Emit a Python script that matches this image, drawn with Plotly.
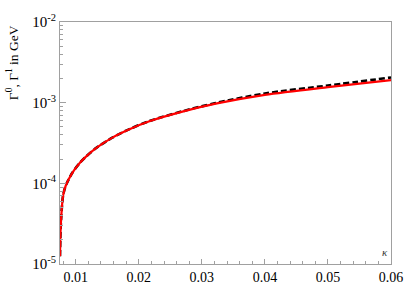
import plotly.graph_objects as go

kappa = [0.0075, 0.00759, 0.00779, 0.0080, 0.00842, 0.00948, 0.01063, 0.01158,
         0.01326, 0.01588, 0.01852, 0.02167, 0.02692, 0.03219, 0.04,
         0.05, 0.06]
gamma_red = [1.25e-5, 2.62e-5, 4.94e-5, 7.13e-5, 9.4e-5, 1.36e-4, 1.79e-4, 2.13e-4,
             2.75e-4, 3.71e-4, 4.68e-4, 5.88e-4, 7.74e-4, 9.72e-4, 1.25e-3,
             1.56e-3, 1.90e-3]
gamma_black = [1.25e-5, 2.62e-5, 4.94e-5, 7.13e-5, 9.4e-5, 1.36e-4, 1.79e-4, 2.13e-4,
               2.75e-4, 3.71e-4, 4.70e-4, 5.92e-4, 7.82e-4, 9.90e-4, 1.30e-3,
               1.63e-3, 2.05e-3]

x_ticks = [0.01, 0.02, 0.03, 0.04, 0.05, 0.06]
x_ticklabels = ["0.01", "0.02", "0.03", "0.04", "0.05", "0.06"]
y_ticks = [1e-5, 1e-4, 1e-3, 1e-2]
y_ticklabels = ["10<sup>-5</sup>", "10<sup>-4</sup>", "10<sup>-3</sup>", "10<sup>-2</sup>"]

y_minor = [m * 10 ** e for e in (-5, -4, -3) for m in range(2, 10)]
x_minor = [round(0.008 + 0.002 * i, 4) for i in range(27)]

FONT = "Liberation Serif, Times New Roman, DejaVu Serif, serif"
GRAY = "#a0a0a0"

fig = go.Figure()
fig.add_trace(go.Scatter(x=kappa, y=gamma_black, mode="lines", line_shape="spline",
                         line=dict(color="black", width=2.6, dash="6px,3px", smoothing=0.8),
                         showlegend=False))
fig.add_trace(go.Scatter(x=kappa, y=gamma_red, mode="lines", line_shape="spline",
                         line=dict(color="#ff0000", width=2.2, smoothing=0.8),
                         showlegend=False))

fig.update_layout(
    width=415, height=297,
    margin=dict(l=60, r=22, t=17, b=29),
    paper_bgcolor="white", plot_bgcolor="white",
    font=dict(family=FONT, size=14, color="black"),
    xaxis=dict(range=[0.0075, 0.06], tickmode="array", tickvals=x_ticks,
               ticktext=x_ticklabels, ticks="inside", ticklen=5, tickcolor=GRAY,
               showline=True, linecolor=GRAY, linewidth=1, mirror=True,
               showgrid=False, zeroline=False,
               minor=dict(tickmode="array", tickvals=x_minor, ticks="inside",
                          ticklen=3, tickcolor=GRAY, showgrid=False),
               tickfont=dict(family=FONT, size=14, color="black")),
    yaxis=dict(type="log", range=[-5, -2], tickmode="array", tickvals=y_ticks,
               ticktext=y_ticklabels, ticks="inside", ticklen=6, tickcolor=GRAY,
               showline=True, linecolor=GRAY, linewidth=1, mirror=True,
               showgrid=False, zeroline=False,
               minor=dict(tickmode="array", tickvals=y_minor, ticks="inside",
                          ticklen=3, tickcolor=GRAY, showgrid=False),
               tickfont=dict(family=FONT, size=15, color="black")),
    annotations=[
        dict(text="Γ<sup>0</sup>, Γ<sup>1</sup> in GeV", xref="paper", yref="paper",
             x=-0.145, y=0.83, xanchor="center", yanchor="middle", textangle=-90,
             showarrow=False, font=dict(family=FONT, size=13.5, color="black")),
        dict(text="<i>κ</i>", xref="paper", yref="paper", x=0.982, y=0.048,
             xanchor="center", yanchor="middle", showarrow=False,
             font=dict(family=FONT, size=11, color="#333333")),
    ],
)

fig.write_html("out.html", config={"displayModeBar": False},
               post_script="document.body.style.margin='0';document.body.style.overflow='hidden';")
